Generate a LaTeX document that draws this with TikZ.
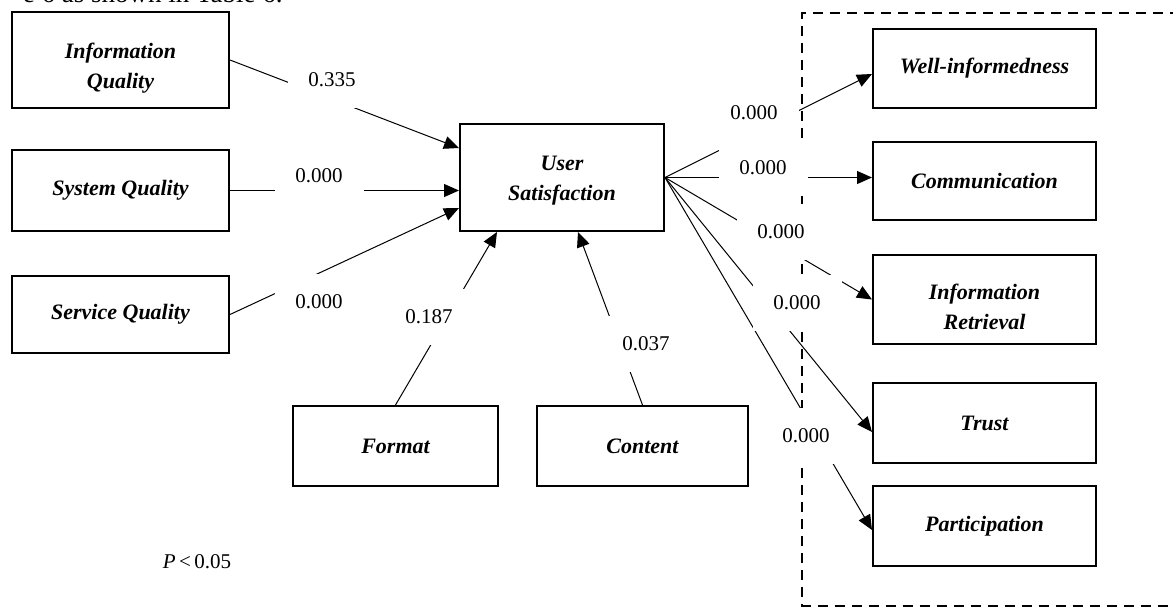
\documentclass[tikz,border=0pt]{standalone}
\usepackage{fontspec}
\setmainfont{Liberation Serif}
\usetikzlibrary{arrows.meta}

\tikzset{
  box/.style={draw, line width=1pt, inner sep=2pt, align=center,
    font=\bfseries\itshape\fontsize{11}{15}\selectfont},
  pval/.style={fill=white, inner sep=0pt, minimum width=44.5pt, minimum height=28pt,
    font=\fontsize{10.5}{12}\selectfont},
  link/.style={line width=0.5pt, ->, >={Triangle[length=7.5pt,width=6.5pt]}},
  group/.style={line width=1pt, dash pattern=on 5pt off 3.5pt}
}

\begin{document}
\begin{tikzpicture}[x=0.5pt, y=-0.5pt]
\useasboundingbox (0,0) rectangle (1173,606);
\node[anchor=base east, inner sep=0pt, font=\fontsize{13.5}{15}\selectfont] (intro) at (283,2.5) {e 6 as shown in Table 6.};
% outcome group
\draw[group] (1180,13) -- (802,13) -- (802,605.5) -- (1180,605.5);
% quality boxes
\node[box, minimum width=108.5pt, minimum height=48pt] (iq) at (120.5,60) {\rule{0pt}{15.5pt}Information\\Quality};
\node[box, minimum width=108.5pt, minimum height=40.5pt] (sq) at (120.5,190.5) {System Quality};
\node[box, minimum width=108.5pt, minimum height=38.5pt] (svq) at (120.5,314.5) {Service Quality};
\node[box, minimum width=102pt, minimum height=53.5pt] (us) at (562,177.5) {\rule{0pt}{10.5pt}User\\Satisfaction};
\node[box, minimum width=102.5pt, minimum height=40pt] (fmt) at (395.5,446) {Format};
\node[box, minimum width=105.5pt, minimum height=40pt] (cnt) at (642.5,446) {Content};
% net benefits
\foreach \n/\y/\h/\t in {wi/68.5/39.5/Well-informedness, comm/181/39/Communication,
  ir/299.5/44.5/{\rule{0pt}{15.5pt}Information\\Retrieval}, trust/423/40/Trust, part/526/40/Participation}
  \node[box, minimum width=111.5pt, minimum height=\h pt] (\n) at (984.5,\y) {\t};
% paths into satisfaction
\draw[link] (iq.east) -- ([yshift=14.75pt]us.west);
\draw[link] (sq.east) -- (sq.east -| us.west);
\draw[link] (svq.east) -- ([yshift=-15.25pt]us.west);
\draw[link] (fmt.north) -- ([xshift=-32.5pt]us.south);
\draw[link] (cnt.north) -- ([xshift=8pt]us.south);
% paths out of satisfaction
\draw[link] (us.east) -- (us.east -| comm.west);
\foreach \n/\s in {wi/-2.75, ir/0, trust/-4.5, part/-2}
  \draw[link] (us.east) -- ([yshift=\s pt]\n.west);
% p values
\foreach \n/\x/\y/\v in {l-iq/332/80/0.335, l-sq/319/176/0.000, l-svq/319/302/0.000,
  l-fmt/429/317/0.187, l-cnt/646/344/0.037, l-wi/754/113/0.000, l-comm/763/168/0.000,
  l-ir/781/232/0.000, l-trust/797/303/0.000, l-part/806/436/0.000}
  \node[pval] (\n) at (\x,\y) {\v};
\node[font=\fontsize{10.5}{12}\selectfont] (sig) at (197,562) {\textit{P}\,<\,0.05};
\end{tikzpicture}
\end{document}
